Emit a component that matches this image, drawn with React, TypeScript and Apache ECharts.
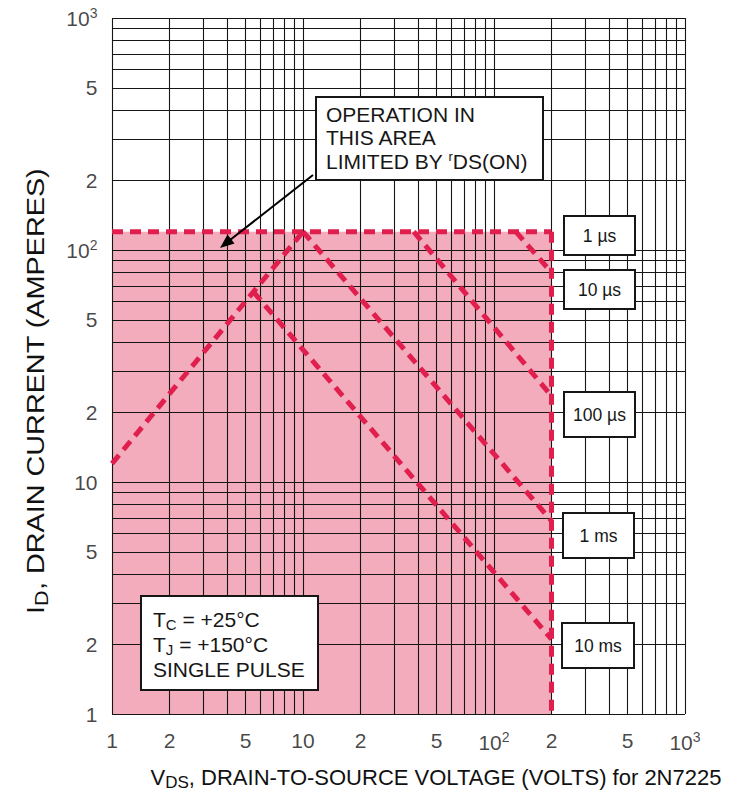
import React, { useEffect, useRef } from 'react';
import * as echarts from 'echarts';

// ---- Data (V_DS in volts, I_D in amperes) ----
const xTickValues = [1, 2, 5, 10, 20, 50, 100, 200, 500, 1000];
const xTickLabels = ['1', '2', '5', '10', '2', '5', '10{sup|2}', '2', '5', '10{sup|3}'];
const yTickValues = [1, 2, 5, 10, 20, 50, 100, 200, 500, 1000];
const yTickLabels = ['1', '2', '5', '10', '2', '5', '10{sup|2}', '2', '5', '10{sup|3}'];

const gridDecades = [1, 10, 100];
const gridMultipliers = [1, 2, 3, 4, 5, 6, 7, 8, 9];
const gridValues = [...gridDecades.flatMap((d) => gridMultipliers.map((m) => m * d)), 1000];

const rdsLimit = [[1, 12], [10, 120]];
const limit1us = [[1, 120], [200, 120]];
const limit10us = [[130, 120], [200, 80]];
const limit100us = [[38, 120], [200, 23.5]];
const limit1ms = [[10, 120], [200, 6.8]];
const limit10ms = [[5.5, 66], [200, 2.1]];
const voltageLimit = [[200, 120], [200, 1]];
const soaCorners = [[1, 1], [200, 120]];

const pulseLabels = ['1 µs', '10 µs', '100 µs', '1 ms', '10 ms'];

const FONT = '"Liberation Sans", Arial, Helvetica, sans-serif';
const RED = '#E01F4E';
const PINK = '#F3ACBC';
const INK = '#161616';

export default function App() {
  const ref = useRef<HTMLDivElement>(null);

  useEffect(() => {
    const chart = echarts.init(ref.current as HTMLDivElement, null, { renderer: 'svg' });

    const redLine = (name: string, data: number[][]) => ({
      type: 'line',
      name,
      data,
      symbol: 'none',
      silent: true,
      clip: false,
      z: 5,
      lineStyle: { color: RED, width: 5, type: [11, 7] },
    });

    const supRich = {
      sup: { fontSize: 14, fontFamily: FONT, color: INK, padding: [0, 0, 11, 0] },
    };

    const pulseBoxes = [
      { x: 564, y: 216, w: 71, h: 39 },
      { x: 564, y: 270, w: 71, h: 39 },
      { x: 564, y: 392, w: 71, h: 45 },
      { x: 563, y: 513, w: 71, h: 45 },
      { x: 562, y: 623, w: 72, h: 45 },
    ];

    const graphics: any[] = [];
    pulseBoxes.forEach((b, i) => {
      graphics.push({
        type: 'rect',
        shape: { x: b.x, y: b.y, width: b.w, height: b.h },
        style: { fill: '#fff', stroke: INK, lineWidth: 2 },
        z: 100,
      });
      graphics.push({
        type: 'text',
        x: b.x + b.w / 2,
        y: b.y + b.h / 2,
        style: {
          text: pulseLabels[i],
          fontSize: 17.5,
          fontFamily: FONT,
          fill: INK,
          align: 'center',
          verticalAlign: 'middle',
        },
        z: 101,
      });
    });

    // rDS(on) annotation
    graphics.push({
      type: 'rect',
      shape: { x: 316, y: 97, width: 227, height: 83 },
      style: { fill: '#fff', stroke: INK, lineWidth: 2 },
      z: 100,
    });
    ['OPERATION IN', 'THIS AREA', 'LIMITED BY {sup|r}DS(ON)'].forEach((t, i) => {
      graphics.push({
        type: 'text',
        x: 326,
        y: 114 + i * 23.5,
        style: {
          text: t,
          fontSize: 21,
          fontFamily: FONT,
          fill: INK,
          align: 'left',
          verticalAlign: 'middle',
          rich: { sup: { fontSize: 13, fontFamily: FONT, fill: INK, padding: [0, 0, 10, 0] } },
        },
        z: 101,
      });
    });
    graphics.push({
      type: 'line',
      shape: { x1: 313, y1: 175, x2: 230, y2: 240 },
      style: { stroke: '#000', lineWidth: 2 },
      z: 100,
    });
    graphics.push({
      type: 'polygon',
      shape: { points: [[220, 248], [234.5, 243.5], [227.5, 234.5]] },
      style: { fill: '#000' },
      z: 100,
    });

    // conditions box
    graphics.push({
      type: 'rect',
      shape: { x: 141, y: 596, width: 177, height: 94 },
      style: { fill: '#fff', stroke: INK, lineWidth: 2 },
      z: 100,
    });
    const subRich = { sub: { fontSize: 15, fontFamily: FONT, fill: INK, padding: [11, 0, 0, 0] } };
    ['T{sub|C} = +25°C', 'T{sub|J} = +150°C', 'SINGLE PULSE'].forEach((t, i) => {
      graphics.push({
        type: 'text',
        x: 153,
        y: 619 + i * 25,
        style: {
          text: t,
          fontSize: 21,
          fontFamily: FONT,
          fill: INK,
          align: 'left',
          verticalAlign: 'middle',
          rich: subRich,
        },
        z: 101,
      });
    });

    // axis titles
    graphics.push({
      type: 'text',
      x: 436,
      y: 777,
      style: {
        text: 'V{sub|DS}, DRAIN-TO-SOURCE VOLTAGE (VOLTS) for 2N7225',
        fontSize: 22,
        fontFamily: FONT,
        fill: '#111',
        align: 'center',
        verticalAlign: 'middle',
        rich: { sub: { fontSize: 17, fontFamily: FONT, fill: '#111', padding: [11, 0, 0, 0] } },
      },
    });
    graphics.push({
      type: 'text',
      x: 36,
      y: 391,
      rotation: Math.PI / 2,
      scaleX: 1.2,
      style: {
        text: 'I{sub|D}, DRAIN CURRENT (AMPERES)',
        fontSize: 24,
        fontFamily: FONT,
        fill: '#111',
        align: 'center',
        verticalAlign: 'middle',
        rich: { sub: { fontSize: 18, fontFamily: FONT, fill: '#111', padding: [12, 0, 0, 0] } },
      },
    });

    const option: any = {
      animation: false,
      backgroundColor: '#fff',
      grid: { left: 112, top: 18, width: 573, height: 696, containLabel: false },
      xAxis: {
        type: 'log',
        logBase: 10,
        min: 1,
        max: 1000,
        axisLine: { show: false },
        axisTick: { show: false },
        axisLabel: { show: false },
        splitLine: { show: false },
      },
      yAxis: {
        type: 'log',
        logBase: 10,
        min: 1,
        max: 1000,
        axisLine: { show: false },
        axisTick: { show: false },
        axisLabel: { show: false },
        splitLine: { show: false },
      },
      graphic: graphics,
      series: [
        {
          type: 'line',
          name: 'soa-area',
          data: soaCorners,
          symbol: 'none',
          lineStyle: { opacity: 0 },
          silent: true,
          z: 1,
          markArea: {
            silent: true,
            itemStyle: { color: PINK, opacity: 1 },
            data: [[{ coord: soaCorners[0] }, { coord: soaCorners[1] }]],
          },
        },
        {
          type: 'line',
          name: 'grid',
          data: [[1, 1]],
          symbol: 'none',
          silent: true,
          z: 2,
          markLine: {
            silent: true,
            symbol: ['none', 'none'],
            label: { show: false },
            lineStyle: { color: INK, width: 1.1, type: 'solid', opacity: 1 },
            data: [
              ...gridValues.map((v) => ({ xAxis: v })),
              ...gridValues.map((v) => ({ yAxis: v })),
            ],
          },
        },
        redLine('rDS(on) limit', rdsLimit),
        redLine('1 µs', limit1us),
        redLine('10 µs', limit10us),
        redLine('100 µs', limit100us),
        redLine('1 ms', limit1ms),
        redLine('10 ms', limit10ms),
        redLine('voltage limit', voltageLimit),
        {
          type: 'scatter',
          name: 'x-ticks',
          data: xTickValues.map((v, i) => ({ value: [v, 1], label: { formatter: xTickLabels[i] } })),
          symbolSize: 1,
          itemStyle: { color: 'rgba(0,0,0,0)' },
          clip: false,
          silent: true,
          z: 6,
          label: {
            show: true,
            position: 'bottom',
            distance: 15,
            fontSize: 21,
            fontFamily: FONT,
            color: INK,
            rich: supRich,
          },
        },
        {
          type: 'scatter',
          name: 'y-ticks',
          data: yTickValues.map((v, i) => ({ value: [1, v], label: { formatter: yTickLabels[i] } })),
          symbolSize: 1,
          itemStyle: { color: 'rgba(0,0,0,0)' },
          clip: false,
          silent: true,
          z: 6,
          label: {
            show: true,
            position: 'left',
            distance: 14,
            fontSize: 21,
            fontFamily: FONT,
            color: INK,
            rich: supRich,
          },
        },
      ],
    };

    chart.setOption(option);
    return () => chart.dispose();
  }, []);

  return (
    <div
      ref={ref}
      style={{ position: 'fixed', left: 0, top: 0, width: 738, height: 796, background: '#fff' }}
    />
  );
}
